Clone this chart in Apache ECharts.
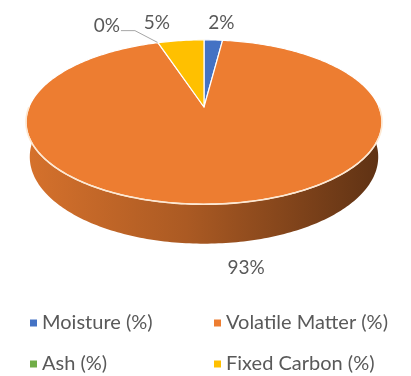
<!DOCTYPE html>
<html>
<head>
<meta charset="utf-8">
<script src="https://cdn.jsdelivr.net/npm/echarts@6/dist/echarts.min.js"></script>
<style>
  html, body { margin: 0; padding: 0; background: #ffffff; }
  #chart { width: 411px; height: 376px; }
</style>
</head>
<body>
<div id="chart"></div>
<script>
// Proximate analysis shares (%)
const categories = ['Moisture (%)', 'Volatile Matter (%)', 'Ash (%)', 'Fixed Carbon (%)'];
const values = [2, 93, 0, 5];

// Slice colours (top face) and the column each legend entry sits in
const colors = ['#4472c4', '#ed7d31', '#70ad47', '#ffc000'];
const legendLeftColumn = [categories[0], categories[2]];
const legendRightColumn = [categories[1], categories[3]];

// Label placement relative to the slice's mid point on the rim
const labelNudge = [[8, -17], [22, 64], [-51, -17], [-24, -18]];
const labelLeader = [false, false, true, false];

// Simple perspective view of a tilted disc
const view = { cx: 204, cy: 107, K: 175, D: 4.87, alpha: 27 * Math.PI / 180, H: 0.225 };
const FONT_FAMILY = 'Lato, "Open Sans", sans-serif';
const LABEL_FONT = '19px ' + FONT_FAMILY;
const TEXT_COLOR = '#595959';

const total = values.reduce((a, b) => a + b, 0);
const startAngles = [], endAngles = [];
let acc = 0;
values.forEach(v => {
  startAngles.push(acc / total * 2 * Math.PI);
  acc += v;
  endAngles.push(acc / total * 2 * Math.PI);
});

// phi is measured clockwise from the far edge of the disc; yw is height (0 = top face)
function project(r, phi, yw) {
  const ca = Math.cos(view.alpha), sa = Math.sin(view.alpha);
  const X = r * Math.sin(phi), Z = -r * Math.cos(phi);
  const u = -Z * sa + yw * ca;
  const w = Z * ca + yw * sa;
  const s = view.D / (view.D - w);
  return [view.cx + view.K * s * X, view.cy - view.K * s * u];
}

function arc(a0, a1, yw) {
  const pts = [];
  const n = Math.max(2, Math.ceil((a1 - a0) / (Math.PI / 180)));
  for (let k = 0; k <= n; k++) pts.push(project(1, a0 + (a1 - a0) * k / n, yw));
  return pts;
}

function shade(hex, f) {
  const n = parseInt(hex.slice(1), 16);
  const c = [(n >> 16) & 255, (n >> 8) & 255, n & 255].map(x => Math.round(x * f));
  return 'rgb(' + c.join(',') + ')';
}

function sideFill(color) {
  const left = project(1, 1.5 * Math.PI, 0)[0];
  const right = project(1, 0.5 * Math.PI, 0)[0];
  return {
    type: 'linear', global: true, x: left, y: 0, x2: right, y2: 0,
    colorStops: [
      { offset: 0, color: shade(color, 0.9) },
      { offset: 0.45, color: shade(color, 0.72) },
      { offset: 1, color: shade(color, 0.4) }
    ]
  };
}

function makeRenderer(i) {
  return function (params, api) {
    const a0 = startAngles[i], a1 = endAngles[i];
    const children = [];
    // outer wall, only the half facing the viewer
    const w0 = Math.max(a0, 0.5 * Math.PI), w1 = Math.min(a1, 1.5 * Math.PI);
    if (w1 > w0) {
      const pts = arc(w0, w1, 0).concat(arc(w0, w1, -view.H).reverse());
      children.push({ type: 'polygon', shape: { points: pts }, style: { fill: sideFill(colors[i]) } });
    }
    // top face
    if (a1 > a0) {
      const pts = [project(0, 0, 0)].concat(arc(a0, a1, 0));
      children.push({
        type: 'polygon', shape: { points: pts },
        style: { fill: colors[i], stroke: '#ffffff', lineWidth: 1.2, lineJoin: 'round' }
      });
      if (w1 > w0) {
        children.push({
          type: 'polyline', shape: { points: arc(w0, w1, 0) },
          style: { fill: null, stroke: '#fde8d2', lineWidth: 1.6 }
        });
      }
    }
    // data label
    const mid = (a0 + a1) / 2;
    const rim = project(1, mid, 0);
    const lx = rim[0] + labelNudge[i][0], ly = rim[1] + labelNudge[i][1];
    if (labelLeader[i]) {
      children.push({
        type: 'polyline',
        shape: { points: [[lx + 14, ly + 5], [lx + 28, ly + 5], rim] },
        style: { fill: null, stroke: '#a6a6a6', lineWidth: 1 }
      });
    }
    children.push({
      type: 'text', x: lx, y: ly,
      style: { text: Math.round(values[i]) + '%', fill: TEXT_COLOR, font: LABEL_FONT, align: 'center', verticalAlign: 'middle' }
    });
    return { type: 'group', children };
  };
}

const series = categories.map((name, i) => ({
  type: 'custom',
  name: name,
  coordinateSystem: 'none',
  itemStyle: { color: colors[i] },
  renderItem: makeRenderer(i),
  data: [values[i]],
  silent: true
}));

const legendCommon = {
  orient: 'vertical', top: 313, padding: 0, itemGap: 21, icon: 'rect', itemWidth: 7, itemHeight: 7,
  textStyle: { color: TEXT_COLOR, fontSize: 20, lineHeight: 20, fontFamily: FONT_FAMILY }
};

const chart = echarts.init(document.getElementById('chart'));
chart.setOption({
  animation: false,
  backgroundColor: '#ffffff',
  legend: [
    Object.assign({ left: 30, data: legendLeftColumn }, legendCommon),
    Object.assign({ left: 214, data: legendRightColumn }, legendCommon)
  ],
  series: series
});
</script>
</body>
</html>
